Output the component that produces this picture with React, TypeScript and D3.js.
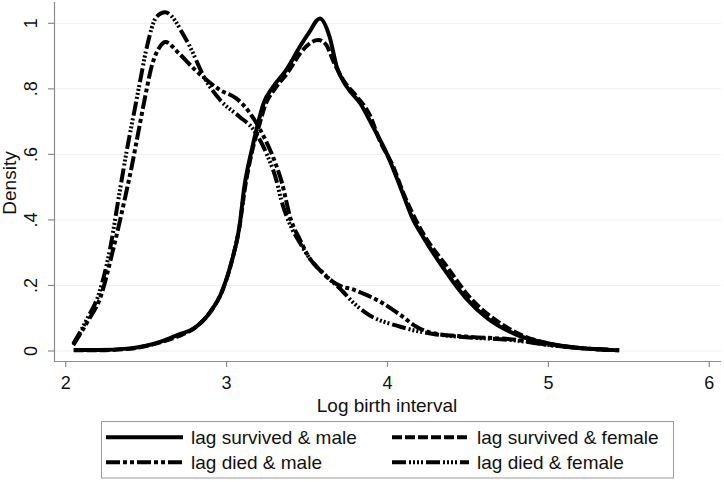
import React from "react";
import * as d3 from "d3";

type Pt = [number, number];

const xTicks = [2, 3, 4, 5, 6];
const yTicks = [0, 0.2, 0.4, 0.6, 0.8, 1];
const yTickLabels = ["0", ".2", ".4", ".6", ".8", "1"];

const seriesNames = [
  "lag survived & male",
  "lag survived & female",
  "lag died & male",
  "lag died & female",
];

const survivedMale: Pt[] = [
  [2.05, 0.003], [2.2, 0.003], [2.4, 0.008], [2.6, 0.03], [2.7, 0.05], [2.8, 0.07],
  [2.9, 0.12], [2.97, 0.18], [3.03, 0.27], [3.08, 0.38], [3.11, 0.5], [3.156, 0.613],
  [3.19, 0.684], [3.23, 0.756], [3.29, 0.807], [3.37, 0.857], [3.456, 0.929], [3.51, 0.97],
  [3.58, 1.015], [3.64, 0.959], [3.684, 0.868], [3.746, 0.807], [3.83, 0.756], [3.91, 0.684],
  [3.995, 0.603], [4.08, 0.5], [4.16, 0.4], [4.22, 0.349], [4.326, 0.268], [4.49, 0.16],
  [4.62, 0.1], [4.8, 0.05], [5.01, 0.022], [5.22, 0.008], [5.44, 0.002],
];

const survivedFemale: Pt[] = [
  [2.05, 0.002], [2.2, 0.002], [2.4, 0.007], [2.6, 0.028], [2.7, 0.045], [2.8, 0.07],
  [2.9, 0.12], [2.97, 0.18], [3.03, 0.27], [3.08, 0.38], [3.115, 0.5], [3.16, 0.613],
  [3.2, 0.684], [3.24, 0.75], [3.3, 0.8], [3.38, 0.85], [3.46, 0.91], [3.52, 0.94],
  [3.57, 0.949], [3.62, 0.934], [3.66, 0.888], [3.725, 0.827], [3.81, 0.776], [3.89, 0.72],
  [3.95, 0.644], [4.036, 0.562], [4.1, 0.48], [4.22, 0.36], [4.37, 0.257], [4.5, 0.17],
  [4.7, 0.085], [4.85, 0.045], [5.01, 0.022], [5.22, 0.008], [5.44, 0.002],
];

const diedMale: Pt[] = [
  [2.047, 0.018], [2.13, 0.085], [2.22, 0.17], [2.29, 0.3], [2.37, 0.47], [2.41, 0.562],
  [2.45, 0.664], [2.49, 0.766], [2.534, 0.868], [2.586, 0.929], [2.62, 0.943], [2.7, 0.91],
  [2.8, 0.86], [2.876, 0.827], [2.96, 0.796], [3.06, 0.771], [3.145, 0.726], [3.21, 0.674],
  [3.29, 0.59], [3.34, 0.52], [3.4, 0.4], [3.456, 0.34], [3.52, 0.28], [3.58, 0.247],
  [3.65, 0.215], [3.725, 0.195], [3.77, 0.19], [3.85, 0.175], [3.97, 0.146], [4.08, 0.11],
  [4.18, 0.074], [4.285, 0.054], [4.49, 0.044], [4.8, 0.034], [5.01, 0.018], [5.22, 0.008],
  [5.4, 0.003],
];

const diedFemale: Pt[] = [
  [2.047, 0.022], [2.13, 0.095], [2.21, 0.18], [2.275, 0.31], [2.33, 0.47], [2.38, 0.613],
  [2.42, 0.715], [2.46, 0.817], [2.5, 0.918], [2.565, 1.02], [2.617, 1.034], [2.75, 0.949],
  [2.876, 0.822], [2.96, 0.766], [3.08, 0.715], [3.16, 0.68], [3.25, 0.6], [3.31, 0.52],
  [3.34, 0.46], [3.4, 0.38], [3.456, 0.33], [3.52, 0.28], [3.58, 0.247], [3.65, 0.215],
  [3.725, 0.18], [3.77, 0.156], [3.87, 0.115], [4.08, 0.074], [4.285, 0.052], [4.49, 0.042],
  [4.8, 0.032], [5.01, 0.018], [5.22, 0.008], [5.4, 0.003],
];

const seriesData = [survivedMale, survivedFemale, diedMale, diedFemale];
const dashes = ["none", "10,3", "14,3,4,3,4,3", "14,3,2,2,2,2,2,2,2,3"];

const FONT = "'Liberation Sans', Arial, sans-serif";

export default function App() {
  const W = 724;
  const H = 482;
  const x = d3.scaleLinear().domain([2, 6]).range([65.7, 709.3]);
  const y = d3.scaleLinear().domain([0, 1]).range([351, 23.3]);
  const line = d3
    .line<Pt>()
    .x((d) => x(d[0]))
    .y((d) => y(d[1]))
    .curve(d3.curveMonotoneX);

  const axisColor = "#8c8c8c";
  const legendCols = [106, 392];
  const legendRows = [437.3, 462.3];

  return (
    <svg
      width={W}
      height={H}
      style={{ position: "absolute", left: 0, top: 0, background: "#fff" }}
      fontFamily={FONT}
    >
      <rect x={0} y={0} width={W} height={H} fill="#fff" />
      {yTicks.map((t) => (
        <line key={"g" + t} x1={55} x2={721} y1={y(t)} y2={y(t)} stroke="#efefef" strokeWidth={1} />
      ))}
      <line x1={54.5} x2={54.5} y1={2} y2={361.5} stroke={axisColor} strokeWidth={1.2} />
      <line x1={54} x2={721} y1={361.5} y2={361.5} stroke={axisColor} strokeWidth={1.2} />
      {yTicks.map((t, i) => (
        <g key={"y" + t}>
          <line x1={48} x2={54} y1={y(t)} y2={y(t)} stroke={axisColor} strokeWidth={1.2} />
          <text
            transform={`translate(37,${y(t)}) rotate(-90)`}
            textAnchor="middle"
            fontSize={18}
            fill="#111"
          >
            {yTickLabels[i]}
          </text>
        </g>
      ))}
      {xTicks.map((t) => (
        <g key={"x" + t}>
          <line x1={x(t)} x2={x(t)} y1={361.5} y2={367} stroke={axisColor} strokeWidth={1.2} />
          <text x={x(t)} y={389} textAnchor="middle" fontSize={18} fill="#111">
            {t}
          </text>
        </g>
      ))}
      <text transform={`translate(16,183) rotate(-90)`} textAnchor="middle" fontSize={19} fill="#111">
        Density
      </text>
      <text x={387} y={412} textAnchor="middle" fontSize={19} fill="#111">
        Log birth interval
      </text>
      {seriesData.map((s, i) => (
        <path
          key={"s" + i}
          d={line(s) || ""}
          fill="none"
          stroke="#000"
          strokeWidth={4}
          strokeDasharray={dashes[i]}
          strokeLinejoin="round"
        />
      ))}
      <rect x={101.5} y={421.5} width={572} height={56.5} fill="#fff" stroke="#999" strokeWidth={1} />
      {seriesNames.map((n, i) => {
        const cx = legendCols[i % 2];
        const cy = legendRows[Math.floor(i / 2)];
        return (
          <g key={"l" + i}>
            <line
              x1={cx}
              x2={cx + 77}
              y1={cy}
              y2={cy}
              stroke="#000"
              strokeWidth={4}
              strokeDasharray={dashes[i]}
            />
            <text x={cx + 85} y={cy} dominantBaseline="central" fontSize={19} fill="#111">
              {n}
            </text>
          </g>
        );
      })}
    </svg>
  );
}
